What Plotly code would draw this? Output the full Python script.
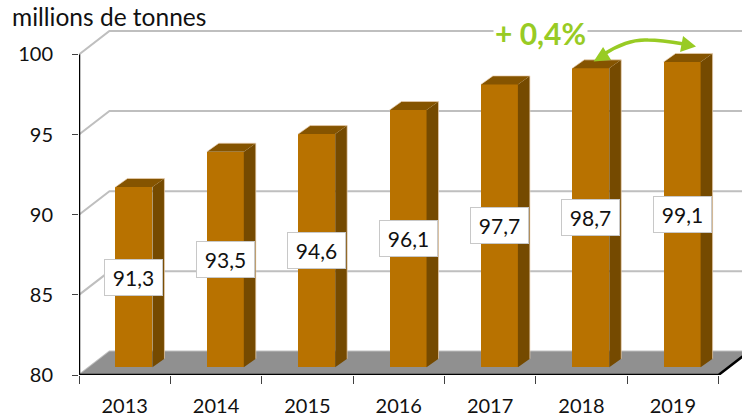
import plotly.graph_objects as go

# Data
years = ["2013", "2014", "2015", "2016", "2017", "2018", "2019"]
values = [91.3, 93.5, 94.6, 96.1, 97.7, 98.7, 99.1]
labels = ["91,3", "93,5", "94,6", "96,1", "97,7", "98,7", "99,1"]
y_ticks = [80, 85, 90, 95, 100]

W, H = 742, 420
AX_L, AX_B, PLOT_T = 78.5, 375, 30   # page pixels of the axes and plot top
L, T, B = AX_L, PLOT_T, H - AX_B
UX = 91.43   # px per category
UY = 16.03   # px per unit
X_MAX = (W - AX_L) / UX
Y_MIN = 80
Y_MAX = 80 + (AX_B - PLOT_T) / UY


def dx(px):
    return (px - AX_L) / UX


def dy(py):
    return 80 + (AX_B - py) / UY


def paper_x(px):
    return (px - AX_L) / (W - AX_L)


def paper_y(py):
    return (AX_B - py) / (AX_B - PLOT_T)


WALL_X, WALL_Y = 30.5 / UX, 23.5 / UY
BAR_L, BAR_W = 0.399, 0.405
DEPTH_X, DEPTH_Y = 12.0 / UX, 8.5 / UY
BASE_Y, TOP_Y = 0.48, 0.43
n = len(years)

GRID, FRONT, SIDE, TOP = "#BFBFBF", "#B87200", "#754A00", "#855400"
GREEN, AXIS, TXT = "#98CB24", "#000000", "#111111"
FONT = "Lato"

fig = go.Figure()

shapes = []
# Wall grid lines (under everything)
for t in y_ticks:
    path = f"M 0,{t} L {WALL_X:.4f},{t + WALL_Y:.4f} L {X_MAX + 1:.4f},{t + WALL_Y:.4f}"
    shapes.append(dict(type="path", path=path, xref="x", yref="y", layer="below",
                       line=dict(color=GRID, width=2)))
# Floor
floor = (f"M 0,80 L {n},80 L {n + WALL_X:.4f},{80 + WALL_Y:.4f} "
         f"L {WALL_X:.4f},{80 + WALL_Y:.4f} Z")
shapes.append(dict(type="path", path=floor, xref="x", yref="y", layer="below",
                   fillcolor="#909090", line=dict(width=0)))

# Bar fronts
fig.add_trace(go.Bar(
    x=[i + BAR_L + BAR_W / 2 for i in range(n)],
    y=[v + TOP_Y - 80 - BASE_Y for v in values],
    base=80 + BASE_Y, width=BAR_W,
    marker=dict(color=FRONT, line=dict(width=0)), showlegend=False))

# Bar sides, tops and pale silhouette
sx, sy, tx, ty, ex, ey = [], [], [], [], [], []
for i, v in enumerate(values):
    a = i + BAR_L
    b = a + BAR_W
    v0 = 80 + BASE_Y
    v1 = v + TOP_Y
    sx += [b, b + DEPTH_X, b + DEPTH_X, b, b, None]
    sy += [v0, v0 + DEPTH_Y, v1 + DEPTH_Y, v1, v0, None]
    tx += [a, a + DEPTH_X, b + DEPTH_X, b, a, None]
    ty += [v1, v1 + DEPTH_Y, v1 + DEPTH_Y, v1, v1, None]
    ex += [a, a + DEPTH_X, b + DEPTH_X, b + DEPTH_X, None]
    ey += [v1, v1 + DEPTH_Y, v1 + DEPTH_Y, v0 + DEPTH_Y, None]
fig.add_trace(go.Scatter(x=sx, y=sy, mode="none", fill="toself", fillcolor=SIDE,
                         hoverinfo="skip", showlegend=False))
fig.add_trace(go.Scatter(x=tx, y=ty, mode="none", fill="toself", fillcolor=TOP,
                         hoverinfo="skip", showlegend=False))
fig.add_trace(go.Scatter(x=ex, y=ey, mode="lines",
                         line=dict(color="rgba(235,210,180,0.7)", width=1),
                         hoverinfo="skip", showlegend=False))

# Axes
fig.add_trace(go.Scatter(x=[0, 0], y=[80, 100], mode="lines", cliponaxis=False,
                         line=dict(color=AXIS, width=2.5), hoverinfo="skip", showlegend=False))
fig.add_trace(go.Scatter(x=[0, n, n + WALL_X], y=[80, 80, 80 + WALL_Y], mode="lines",
                         cliponaxis=False,
                         line=dict(color=AXIS, width=2.5), hoverinfo="skip", showlegend=False))

# Value labels
annotations = []
for i, (v, lab) in enumerate(zip(values, labels)):
    annotations.append(dict(
        x=i + BAR_L + BAR_W / 2, y=(80 + BASE_Y + v + TOP_Y) / 2, text=lab, showarrow=False,
        xref="x", yref="y", width=55, height=33, align="center", valign="middle",
        bgcolor="white", bordercolor="#C8C8C8", borderwidth=1, borderpad=1,
        font=dict(family=FONT, size=21, color=TXT)))

annotations.append(dict(
    x=paper_x(12), y=paper_y(17), text="millions de tonnes", showarrow=False,
    xanchor="left", yanchor="middle", xshift=-3,
    xref="paper", yref="paper", font=dict(family=FONT, size=24.5, color=TXT)))
annotations.append(dict(
    x=paper_x(540), y=paper_y(33), text="<b>+ 0,4%</b>", showarrow=False,
    xanchor="center", yanchor="middle",
    xref="paper", yref="paper", bgcolor="white", borderpad=1,
    font=dict(family=FONT, size=30, color=GREEN)))


def pt(px, py):
    return f"{dx(px):.4f},{dy(py):.4f}"


arc = (f"M {pt(604, 54)} C {pt(618, 45)} {pt(633, 39)} {pt(648, 40)} "
       f"C {pt(660, 40)} {pt(672, 42)} {pt(684, 44)}")
head_l = f"M {pt(593.5, 61.5)} L {pt(603, 47)} L {pt(611, 60)} Z"
head_r = f"M {pt(696, 46.5)} L {pt(683, 36)} L {pt(680, 52)} Z"
shapes += [
    dict(type="path", path=arc, xref="x", yref="y", line=dict(color=GREEN, width=3.5)),
    dict(type="path", path=head_l, xref="x", yref="y", fillcolor=GREEN, line=dict(width=0)),
    dict(type="path", path=head_r, xref="x", yref="y", fillcolor=GREEN, line=dict(width=0)),
]

fig.update_layout(
    width=W, height=H, margin=dict(l=L, r=0, t=T, b=B, pad=0),
    paper_bgcolor="white", plot_bgcolor="rgba(0,0,0,0)", showlegend=False, bargap=0,
    annotations=annotations, shapes=shapes,
    xaxis=dict(range=[0, X_MAX], tickvals=[i + 0.5 for i in range(n)], ticktext=years,
               ticks="", showgrid=False, zeroline=False, showline=False,
               ticklabelstandoff=17, tickfont=dict(family=FONT, size=20, color=TXT),
               minor=dict(tickvals=list(range(n + 1)), ticks="outside", ticklen=8,
                          tickcolor="#404040", tickwidth=1, showgrid=False)),
    yaxis=dict(range=[Y_MIN, Y_MAX], tickvals=y_ticks, ticks="outside", ticklen=6,
               tickcolor="#404040", tickwidth=1, showgrid=False, zeroline=False, showline=False,
               ticklabelstandoff=15, tickfont=dict(family=FONT, size=20, color=TXT)),
)

fig.write_html("out.html", config={"displayModeBar": False},
               post_script="document.body.style.margin='0';document.body.style.overflow='hidden';")
